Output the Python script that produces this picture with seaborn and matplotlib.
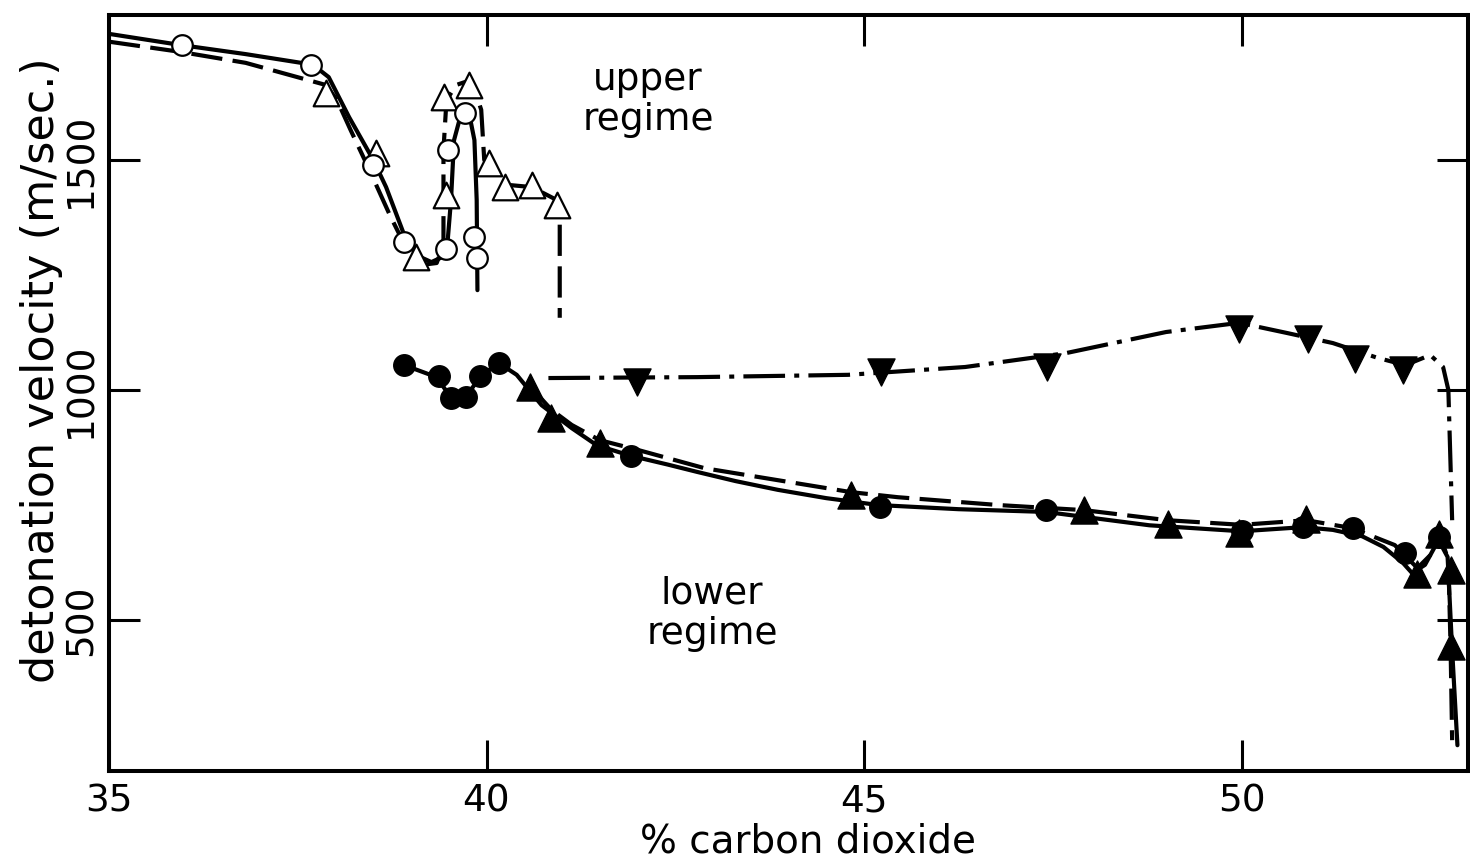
import matplotlib
matplotlib.use("Agg")
import matplotlib.pyplot as plt
import seaborn as sns
import pandas as pd

# ---------------- data ----------------
# upper regime: open circles (solid curve) and open triangles (dashed curve)
upper_circle_x = [35.97, 37.67, 38.50, 38.91, 39.47, 39.49, 39.72, 39.84, 39.87]
upper_circle_y = [1750, 1707, 1489, 1322, 1307, 1522, 1602, 1333, 1287]

upper_tri_x = [37.87, 38.54, 39.07, 39.44, 39.47, 39.77, 40.03, 40.24, 40.60, 40.93]
upper_tri_y = [1646, 1515, 1289, 1637, 1424, 1663, 1493, 1441, 1446, 1402]

upper_solid_x = [35.0, 35.94, 36.81, 37.70, 37.91, 38.18, 38.50, 38.67, 38.91, 39.07,
                 39.27, 39.47, 39.53, 39.57, 39.67, 39.76, 39.84, 39.87, 39.88]
upper_solid_y = [1774, 1750, 1730, 1707, 1680, 1593, 1500, 1441, 1337, 1293,
                 1278, 1293, 1413, 1543, 1604, 1609, 1543, 1413, 1217]

upper_dash_x = [35.0, 35.94, 36.81, 37.87, 38.02, 38.20, 38.45, 38.72, 38.95, 39.15,
                39.34, 39.43, 39.43, 39.47, 39.60, 39.80, 39.93, 39.97, 40.13, 40.27,
                40.60, 40.93, 40.97, 40.97]
upper_dash_y = [1757, 1735, 1711, 1663, 1630, 1565, 1478, 1380, 1304, 1272,
                1276, 1315, 1522, 1630, 1663, 1674, 1609, 1500, 1467, 1446,
                1441, 1413, 1391, 1157]

# lower regime: filled circles (solid), filled triangles (dashed), inverted triangles (dash-dot)
lower_circle_x = [38.91, 39.37, 39.53, 39.73, 39.91, 40.16, 41.91, 45.21, 47.41,
                  50.00, 50.82, 51.48, 52.17, 52.61]
lower_circle_y = [1054, 1030, 983, 985, 1030, 1059, 857, 746, 739,
                  693, 702, 700, 645, 680]

lower_tri_x = [40.57, 40.86, 41.50, 44.83, 47.91, 49.02, 49.97, 50.86, 52.33, 52.61, 52.77, 52.77]
lower_tri_y = [1007, 939, 885, 772, 739, 709, 689, 720, 600, 687, 609, 443]

down_tri_x = [41.99, 45.23, 47.42, 49.97, 50.88, 51.50, 52.14]
down_tri_y = [1017, 1039, 1050, 1133, 1111, 1067, 1043]

lower_solid_x = [38.91, 39.34, 39.53, 39.73, 39.91, 40.16, 40.40, 40.73, 41.13, 41.46,
                 41.91, 42.40, 42.79, 43.30, 43.86, 44.50, 45.19, 46.25, 47.41, 48.78,
                 50.00, 50.82, 51.21, 51.60, 51.88, 52.14, 52.26, 52.43, 52.61, 52.73,
                 52.79, 52.86]
lower_solid_y = [1054, 1028, 983, 985, 1028, 1059, 1033, 967, 917, 880,
                 857, 838, 822, 802, 783, 765, 750, 741, 735, 706,
                 693, 702, 696, 682, 659, 624, 602, 620, 674, 637,
                 435, 228]

lower_dash_x = [40.56, 40.86, 41.13, 41.50, 42.00, 42.89, 43.86, 44.83, 45.45, 46.78,
                47.91, 49.02, 50.00, 50.86, 51.46, 52.03, 52.33, 52.50, 52.63, 52.74,
                52.77, 52.79]
lower_dash_y = [1011, 957, 924, 891, 870, 830, 804, 778, 767, 750,
                739, 717, 707, 717, 700, 663, 613, 641, 685, 630,
                435, 239]

dashdot_x = [40.82, 42.79, 44.79, 46.34, 47.67, 49.00, 49.97, 50.60, 51.21, 51.80,
             52.17, 52.50, 52.67, 52.74, 52.79]
dashdot_y = [1026, 1028, 1033, 1050, 1080, 1126, 1146, 1124, 1102, 1070,
             1054, 1076, 1050, 1000, 717]

x_ticks = [35, 40, 45, 50]
y_ticks = [500, 1000, 1500]
y_tick_labels = ["500", "1000", "1500"]

# ---------------- figure ----------------
sns.set_theme(style="ticks")
plt.rcParams["font.family"] = ["DejaVu Sans"]

fig = plt.figure(figsize=(14.7, 8.66), dpi=100)
ax = fig.add_axes([109 / 1470, (866 - 771) / 866, (1468 - 109) / 1470, (771 - 15) / 866])

LW = 3.0
line_kw = dict(color="black", linewidth=LW, sort=False, estimator=None, legend=False, ax=ax)

sns.lineplot(x=upper_solid_x, y=upper_solid_y, linestyle="-", **line_kw)
sns.lineplot(x=upper_dash_x, y=upper_dash_y, linestyle=(0, (7.5, 2.5)), **line_kw)
sns.lineplot(x=lower_solid_x, y=lower_solid_y, linestyle="-", **line_kw)
sns.lineplot(x=lower_dash_x, y=lower_dash_y, linestyle=(0, (7.5, 2.5)), **line_kw)
sns.lineplot(x=dashdot_x, y=dashdot_y, linestyle=(0, (10, 2.2, 1.2, 2.2)), **line_kw)

sns.scatterplot(x=upper_tri_x, y=upper_tri_y, marker="^", s=340, color="white",
                edgecolor="black", linewidth=1.6, ax=ax, legend=False, zorder=3)
sns.scatterplot(x=upper_circle_x, y=upper_circle_y, marker="o", s=220, color="white",
                edgecolor="black", linewidth=1.6, ax=ax, legend=False, zorder=4)
sns.scatterplot(x=lower_circle_x, y=lower_circle_y, marker="o", s=240, color="black",
                edgecolor="black", linewidth=1, ax=ax, legend=False, zorder=3)
sns.scatterplot(x=lower_tri_x, y=lower_tri_y, marker="^", s=380, color="black",
                edgecolor="black", linewidth=1, ax=ax, legend=False, zorder=3)
sns.scatterplot(x=down_tri_x, y=down_tri_y, marker="v", s=380, color="black",
                edgecolor="black", linewidth=1, ax=ax, legend=False, zorder=3)

ax.set_xlim(35, 53)
ax.set_ylim(172, 1815)
ax.set_xticks(x_ticks)
ax.set_xticklabels([str(v) for v in x_ticks])
ax.set_yticks(y_ticks)
ax.set_yticklabels(y_tick_labels, rotation=90, va="center")

ax.tick_params(axis="both", direction="in", length=22, width=2.2, labelsize=27,
               top=True, right=True, colors="black")
ax.tick_params(axis="x", pad=9)
ax.tick_params(axis="y", pad=7)
for s in ax.spines.values():
    s.set_linewidth(2.9)
    s.set_color("black")

ax.set_xlabel("% carbon dioxide", fontsize=28, color="black")
ax.set_ylabel("detonation velocity (m/sec.)", fontsize=32, color="black")
ax.xaxis.set_label_coords(0.514, -0.068)
ax.yaxis.set_label_coords(-0.034, 0.53)

ax.text(42.14, 1630, "upper\nregime", fontsize=27, ha="center", va="center",
        linespacing=1.15, color="black")
ax.text(42.99, 513, "lower\nregime", fontsize=27, ha="center", va="center",
        linespacing=1.15, color="black")

fig.savefig("out.png", dpi=100, facecolor="white")
